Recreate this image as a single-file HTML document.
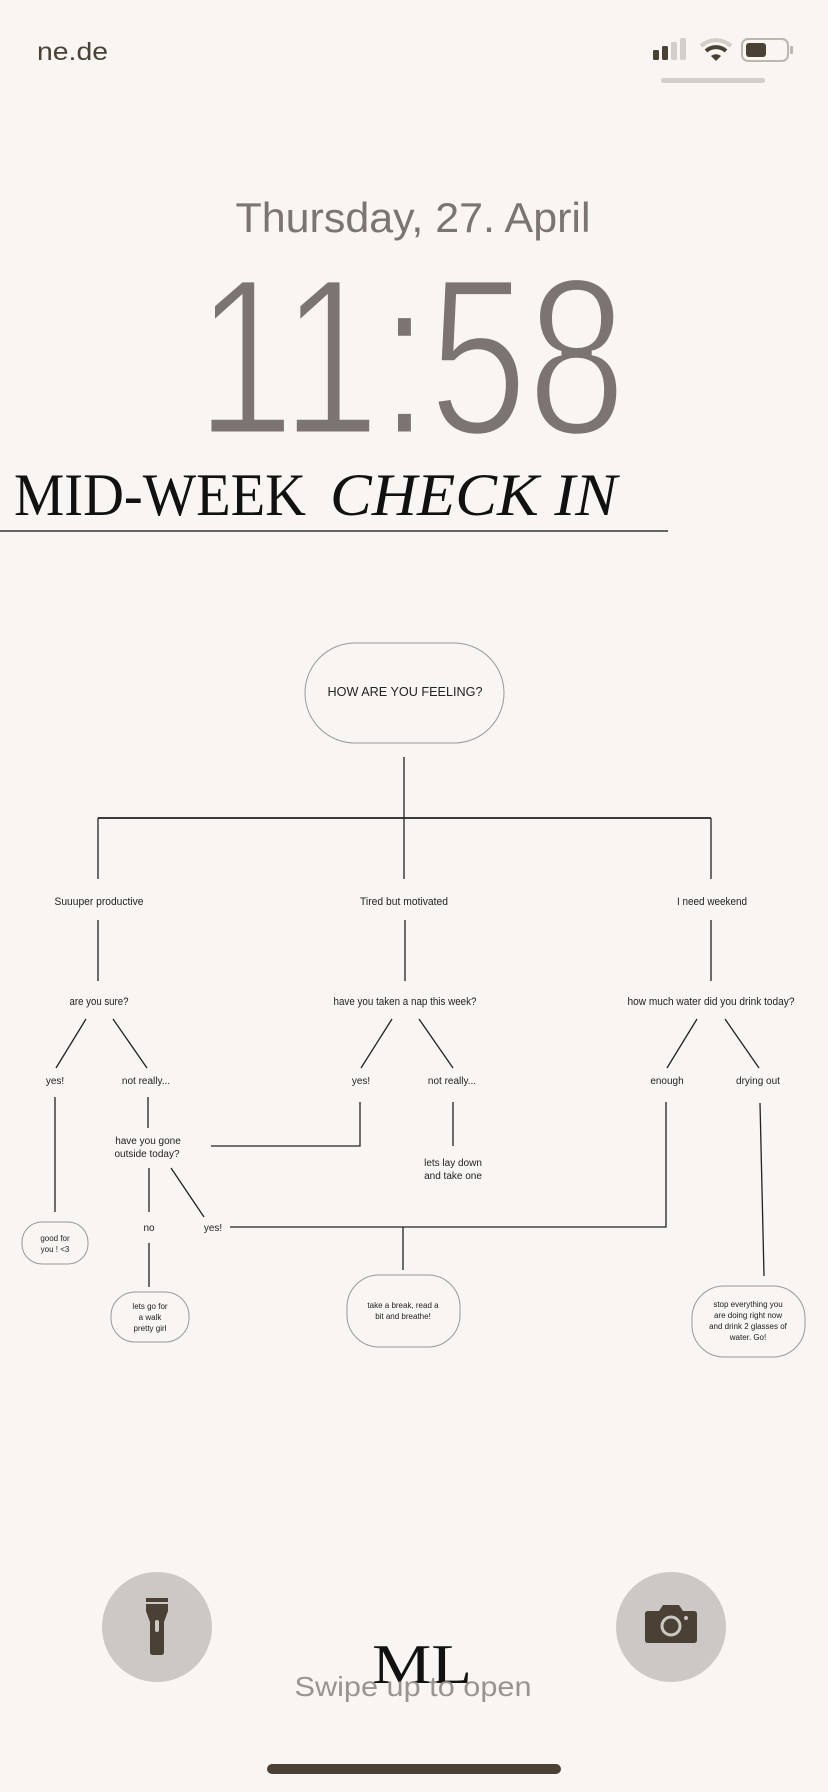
<!DOCTYPE html>
<html><head><meta charset="utf-8"><style>
html,body{margin:0;padding:0;background:#f8f5f2;}
svg{display:block;}
</style></head><body>
<svg width="828" height="1792" viewBox="0 0 828 1792" xmlns="http://www.w3.org/2000/svg">
<rect width="828" height="1792" fill="#f8f5f2"/>
<!-- status bar -->
<text x="37" y="60" font-family="Liberation Sans, sans-serif" font-size="25" fill="#4a4034" textLength="71" lengthAdjust="spacingAndGlyphs">ne.de</text>
<rect x="653" y="50" width="6" height="10" rx="1.5" fill="#4a4034"/>
<rect x="662" y="46" width="6" height="14" rx="1.5" fill="#4a4034"/>
<rect x="671" y="42" width="6" height="18" rx="1.5" fill="#d3cec9"/>
<rect x="680" y="38" width="6" height="22" rx="1.5" fill="#d3cec9"/>
<path d="M701 46 A22 22 0 0 1 731 46" stroke="#d3cec9" stroke-width="4" fill="none"/>
<path d="M706 51 A15 15 0 0 1 726 51" stroke="#4a4034" stroke-width="4" fill="none"/>
<path d="M711 56 L716 61 L721 56 A8 8 0 0 0 711 56Z" fill="#4a4034"/>
<rect x="742" y="39" width="46" height="22" rx="6" fill="none" stroke="#bdb6ae" stroke-width="2"/>
<rect x="746" y="43" width="20" height="14" rx="3" fill="#4a4034"/>
<rect x="790" y="46" width="3" height="8" rx="1" fill="#bdb6ae"/>
<rect x="661" y="78" width="104" height="5" rx="2.5" fill="#d3cec9"/>
<!-- date / time -->
<text x="413" y="232" text-anchor="middle" font-family="Liberation Sans, sans-serif" font-size="42" fill="#7b7471" textLength="355" lengthAdjust="spacingAndGlyphs">Thursday, 27. April</text>
<text x="196" y="434" font-family="Liberation Sans, sans-serif" font-size="224" fill="#7b7471" stroke="#f8f5f2" stroke-width="5" textLength="430" lengthAdjust="spacingAndGlyphs">11:58</text>
<!-- title -->
<text x="14" y="515" font-family="Liberation Serif, serif" font-size="60" fill="#111" textLength="292" lengthAdjust="spacingAndGlyphs">MID-WEEK</text>
<text x="330" y="515" font-family="Liberation Serif, serif" font-style="italic" font-size="60" fill="#111" textLength="287" lengthAdjust="spacingAndGlyphs">CHECK IN</text>
<line x1="0" y1="531" x2="668" y2="531" stroke="#333" stroke-width="1.5"/>
<!-- diagram lines -->
<g stroke="#222" stroke-width="1.3" fill="none">
<line x1="404" y1="757" x2="404" y2="879"/>
<line x1="98" y1="818" x2="711" y2="818" stroke-width="1.8"/>
<line x1="98" y1="818" x2="98" y2="879"/>
<line x1="711" y1="818" x2="711" y2="879"/>
<line x1="98" y1="920" x2="98" y2="981"/>
<line x1="405" y1="920" x2="405" y2="981"/>
<line x1="711" y1="920" x2="711" y2="981"/>
<line x1="86" y1="1019" x2="56" y2="1068"/>
<line x1="113" y1="1019" x2="147" y2="1068"/>
<line x1="392" y1="1019" x2="361" y2="1068"/>
<line x1="419" y1="1019" x2="453" y2="1068"/>
<line x1="697" y1="1019" x2="667" y2="1068"/>
<line x1="725" y1="1019" x2="759" y2="1068"/>
<line x1="55" y1="1097" x2="55" y2="1212"/>
<line x1="148" y1="1097" x2="148" y2="1128"/>
<polyline points="211,1146 360,1146 360,1102"/>
<line x1="453" y1="1102" x2="453" y2="1146"/>
<polyline points="230,1227 666,1227 666,1102"/>
<line x1="760" y1="1103" x2="764" y2="1276"/>
<line x1="149" y1="1168" x2="149" y2="1212"/>
<line x1="171" y1="1168" x2="204" y2="1217"/>
<line x1="149" y1="1243" x2="149" y2="1287"/>
<line x1="403" y1="1227" x2="403" y2="1270"/>
</g>
<!-- boxes -->
<g fill="none" stroke="#999" stroke-width="1">
<rect x="305" y="643" width="199" height="100" rx="50"/>
<rect x="22" y="1222" width="66" height="42" rx="20"/>
<rect x="111" y="1292" width="78" height="50" rx="24"/>
<rect x="347" y="1275" width="113" height="72" rx="32"/>
<rect x="692" y="1286" width="113" height="71" rx="32"/>
</g>
<!-- diagram text -->
<g font-family="Liberation Sans, sans-serif" fill="#222" text-anchor="middle">
<text x="405" y="696" font-size="13" textLength="155" lengthAdjust="spacingAndGlyphs">HOW ARE YOU FEELING?</text>
<text x="99" y="905" font-size="11" textLength="89" lengthAdjust="spacingAndGlyphs">Suuuper productive</text>
<text x="404" y="905" font-size="11" textLength="88" lengthAdjust="spacingAndGlyphs">Tired but motivated</text>
<text x="712" y="905" font-size="11" textLength="70" lengthAdjust="spacingAndGlyphs">I need weekend</text>
<text x="99" y="1005" font-size="11" textLength="59" lengthAdjust="spacingAndGlyphs">are you sure?</text>
<text x="405" y="1005" font-size="11" textLength="143" lengthAdjust="spacingAndGlyphs">have you taken a nap this week?</text>
<text x="711" y="1005" font-size="11" textLength="167" lengthAdjust="spacingAndGlyphs">how much water did you drink today?</text>
<text x="55" y="1084" font-size="10">yes!</text>
<text x="146" y="1084" font-size="10">not really...</text>
<text x="361" y="1084" font-size="10">yes!</text>
<text x="452" y="1084" font-size="10">not really...</text>
<text x="667" y="1084" font-size="10">enough</text>
<text x="758" y="1084" font-size="10">drying out</text>
<text x="148" y="1144" font-size="10">have you gone</text>
<text x="147" y="1157" font-size="10">outside today?</text>
<text x="453" y="1166" font-size="10">lets lay down</text>
<text x="453" y="1179" font-size="10">and take one</text>
<text x="149" y="1231" font-size="10">no</text>
<text x="213" y="1231" font-size="10">yes!</text>
<text x="55" y="1241" font-size="8">good for</text>
<text x="55" y="1252" font-size="8">you ! &lt;3</text>
<text x="150" y="1309" font-size="8">lets go for</text>
<text x="150" y="1320" font-size="8">a walk</text>
<text x="150" y="1331" font-size="8">pretty girl</text>
<text x="403" y="1308" font-size="8">take a break, read a</text>
<text x="403" y="1319" font-size="8">bit and breathe!</text>
<text x="748" y="1307" font-size="8">stop everything you</text>
<text x="748" y="1318" font-size="8">are doing right now</text>
<text x="748" y="1329" font-size="8">and drink 2 glasses of</text>
<text x="748" y="1340" font-size="8">water. Go!</text>
</g>
<!-- bottom -->
<ellipse cx="157" cy="1627" rx="55" ry="55" fill="#cbc8c5"/>
<ellipse cx="671" cy="1627" rx="55" ry="55" fill="#cbc8c5"/>
<rect x="146" y="1598" width="22" height="4" fill="#4a4034"/>
<path d="M146 1604 L168 1604 L168 1611 L164 1622 L164 1652 Q164 1655 161 1655 L153 1655 Q150 1655 150 1652 L150 1622 L146 1611Z" fill="#4a4034"/>
<rect x="155" y="1620" width="4" height="12" rx="2" fill="#cbc8c5"/>
<path d="M648 1611 L659 1611 L663 1605 L679 1605 L683 1611 L694 1611 Q697 1611 697 1614 L697 1640 Q697 1643 694 1643 L648 1643 Q645 1643 645 1640 L645 1614 Q645 1611 648 1611Z" fill="#4a4034"/>
<circle cx="671" cy="1626" r="9" fill="none" stroke="#cbc8c5" stroke-width="3"/>
<circle cx="686" cy="1618" r="2" fill="#cbc8c5"/>
<text x="422" y="1683" text-anchor="middle" font-family="Liberation Serif, serif" font-size="56" fill="#111" textLength="100" lengthAdjust="spacingAndGlyphs">ML</text>
<text x="413" y="1696" text-anchor="middle" font-family="Liberation Sans, sans-serif" font-size="28" fill="#9a9490" textLength="237" lengthAdjust="spacingAndGlyphs">Swipe up to open</text>
<rect x="267" y="1764" width="294" height="10" rx="5" fill="#4a4034"/>
</svg>
</body></html>
